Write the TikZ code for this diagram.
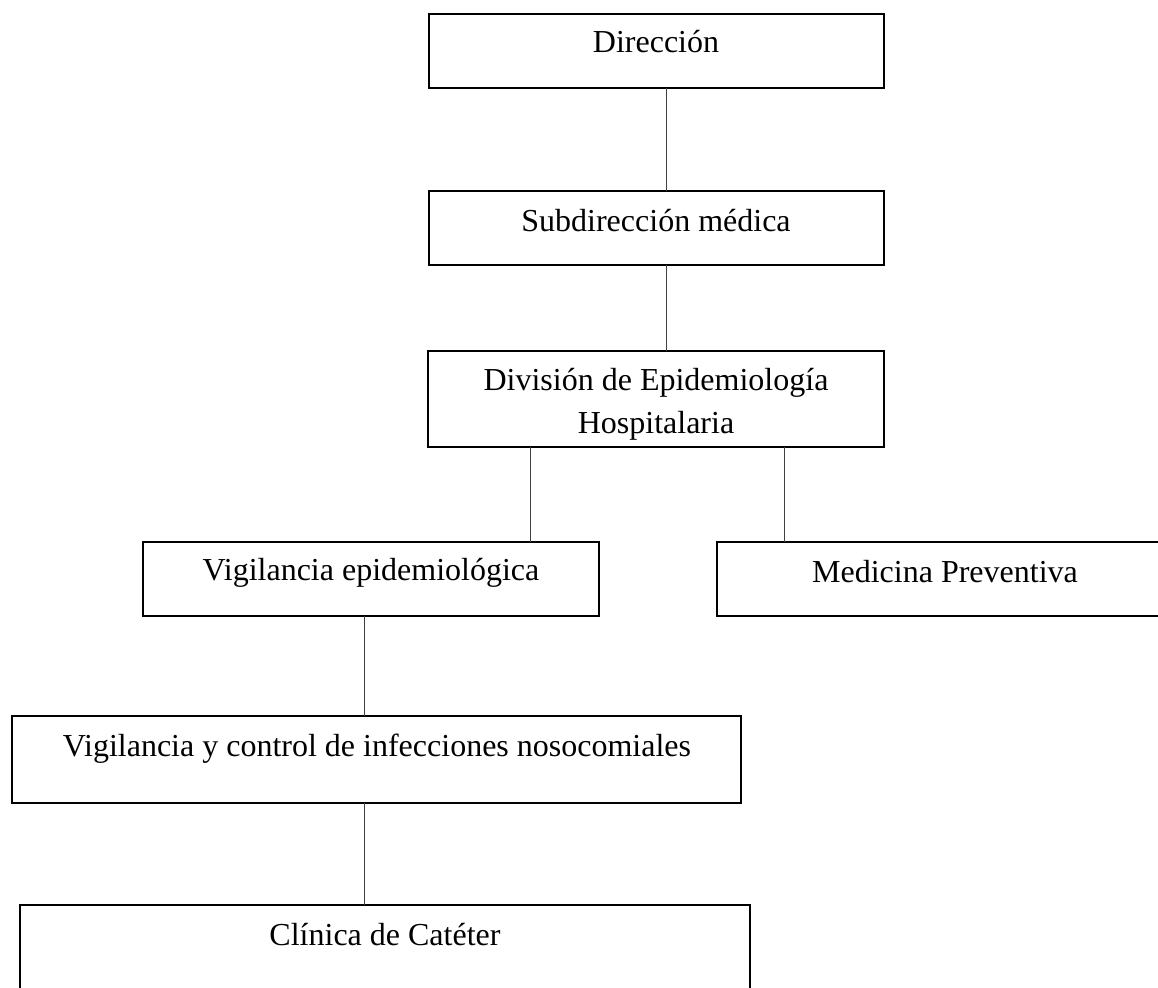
\documentclass[tikz,border=0pt]{standalone}
\usepackage{fontspec}
\setmainfont{Liberation Serif}
\newfontfamily\orgfont{Liberation Serif}
\begin{document}
\begin{tikzpicture}[x=1pt,y=-1pt,
  box/.style={draw, line width=1.4pt, inner sep=0pt, outer sep=0pt, anchor=north west},
  conn/.style={line width=1pt, black!75},
  lbl/.style={anchor=base, inner sep=0pt, align=center, font=\orgfont\fontsize{32}{43}\selectfont}]
\useasboundingbox (0,0) rectangle (1158,987);
\clip (0,0) rectangle (1158,987);
% boxes
\node[box, minimum width=455pt, minimum height=74pt] (b1) at (429,14) {};
\node[box, minimum width=455pt, minimum height=74pt] (b2) at (429,191) {};
\node[box, minimum width=456pt, minimum height=96pt] (b3) at (428,351) {};
\node[box, minimum width=456pt, minimum height=74pt] (b4) at (143,542) {};
\node[box, minimum width=456pt, minimum height=74pt] (b5) at (717,542) {};
\node[box, minimum width=729pt, minimum height=87pt] (b6) at (12,716) {};
\node[box, minimum width=730pt, minimum height=95pt] (b7) at (20,905) {};
% labels
\node[lbl] (t1) at (656,53) {Dirección};
\node[lbl] (t2) at (656,231) {Subdirección médica};
\node[lbl] (t3) at (656,433) {División de Epidemiología\\Hospitalaria};
\node[lbl] (t4) at (371,580) {Vigilancia epidemiológica};
\node[lbl] (t5) at (945,582) {Medicina Preventiva};
\node[lbl] (t6) at (377,756) {Vigilancia y control de infecciones nosocomiales};
\node[lbl] (t7) at (385,945) {Clínica de Catéter};
% connector guides
\coordinate (v1) at (666,0);
\coordinate (v3) at (530,0);
\coordinate (v4) at (784,0);
\coordinate (v5) at (364,0);
\draw[conn] (v1 |- b1.south) -- (v1 |- b2.north);
\draw[conn] (v1 |- b2.south) -- (v1 |- b3.north);
\draw[conn] (v3 |- b3.south) -- (v3 |- b4.north);
\draw[conn] (v4 |- b3.south) -- (v4 |- b5.north);
\draw[conn] (v5 |- b4.south) -- (v5 |- b6.north);
\draw[conn] (v5 |- b6.south) -- (v5 |- b7.north);
\end{tikzpicture}
\end{document}
